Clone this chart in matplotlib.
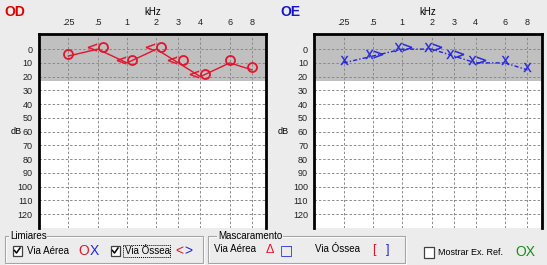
import matplotlib
matplotlib.use('Agg')
import matplotlib.pyplot as plt
import matplotlib.transforms as mtransforms
from matplotlib import font_manager
from matplotlib.patches import Rectangle
import numpy as np

freqs = [0.25, 0.5, 1, 2, 3, 4, 6, 8]
freq_labels = ['.25', '.5', '1', '2', '3', '4', '6', '8']
db_ticks = list(range(0, 130, 10))

od_air = [5, 0, 10, 0, 10, 20, 10, 15]      # right ear, air (O)
od_bone_freqs = [0.5, 1, 2, 3, 4]
od_bone = [0, 10, 0, 10, 20]                # right ear, bone (<)

oe_air = [10, 5, 0, 0, 5, 10, 10, 15]       # left ear, air (X)
oe_bone_freqs = [0.5, 1, 2, 3, 4]
oe_bone = [5, 0, 0, 5, 10]                  # left ear, bone (>)

# audiometer axis: octaves evenly spaced, half-octaves squeezed in
axis_freqs = [0.125, 0.25, 0.5, 1, 2, 3, 4, 6, 8, 11.3]
axis_pos = [0, 1, 2, 3, 4, 4.75, 5.5, 6.5, 7.25, 7.75]

RED = '#E5142D'
BLUE = '#2424DC'
BG = '#ECECEC'

names = {f.name for f in font_manager.fontManager.ttflist}
TICKFONT = 'Liberation Sans Narrow' if 'Liberation Sans Narrow' in names else 'Liberation Sans'
TICKSIZE = 7 if TICKFONT == 'Liberation Sans Narrow' else 6.5
plt.rcParams['font.family'] = ['Liberation Sans', 'DejaVu Sans']


def fwd(f):
    f = np.clip(np.asarray(f, dtype=float), 1e-6, None)
    return np.interp(np.log2(f), np.log2(axis_freqs), axis_pos)


def inv(p):
    return 2 ** np.interp(p, axis_pos, np.log2(axis_freqs))


fig = plt.figure(figsize=(5.47, 2.65), dpi=100, facecolor=BG)
W, H = 547.0, 265.0


def panel(x0, air, bone_f, bone, air_mk, bone_mk, color, ls, air_dx, bone_dx, mk_kw):
    ax = fig.add_axes([x0 / W, 1 - 228 / H, 227.4 / W, 194 / H])
    ax.set_xscale('function', functions=(fwd, inv))
    ax.set_xlim(axis_freqs[0], axis_freqs[-1])
    ax.set_ylim(130, -11)
    ax.axhspan(-11, 23, color='#C0C0C0', zorder=0, lw=0)
    ax.set_xticks(freqs)
    ax.set_xticklabels(freq_labels, fontfamily=TICKFONT)
    ax.xaxis.set_minor_locator(plt.NullLocator())
    ax.xaxis.tick_top()
    ax.set_yticks(db_ticks)
    ax.set_yticklabels([str(v) for v in db_ticks], fontfamily=TICKFONT)
    ax.tick_params(axis='x', length=0, labelsize=TICKSIZE, pad=5, colors='#202020')
    ax.tick_params(axis='y', length=0, labelsize=TICKSIZE, pad=4.5, colors='#202020')
    ax.set_axisbelow(True)
    ax.xaxis.grid(True, color='#8A8A8A', ls=(0, (2.5, 2)), lw=0.7)
    ax.yaxis.grid(True, color='#8A8A8A', ls=(0, (2.5, 2)), lw=0.7)
    for s in ['top', 'left', 'right']:
        ax.spines[s].set_linewidth(2)
        ax.spines[s].set_color('black')
    ax.spines['bottom'].set_visible(False)

    ax.plot(freqs, air, color=color, ls=ls, lw=1, zorder=3)
    fa = np.array(freqs)
    aa = np.array(air)
    has_bone = np.isin(fa, bone_f)
    t_air = mtransforms.offset_copy(ax.transData, fig=fig, x=air_dx, y=2.5, units='dots')
    t_plain = mtransforms.offset_copy(ax.transData, fig=fig, x=0, y=2.5, units='dots')
    t_bone = mtransforms.offset_copy(ax.transData, fig=fig, x=bone_dx, y=2.5, units='dots')
    ax.plot(fa[has_bone], aa[has_bone], ls='none', marker=air_mk, transform=t_air,
            color=color, clip_on=False, zorder=4, **mk_kw)
    ax.plot(fa[~has_bone], aa[~has_bone], ls='none', marker=air_mk, transform=t_plain,
            color=color, clip_on=False, zorder=4, **mk_kw)
    ax.plot(bone_f, bone, ls='none', marker=bone_mk, transform=t_bone,
            color=color, ms=6.5, mew=0.2, clip_on=False, zorder=4)
    return ax


panel(39, od_air, od_bone_freqs, od_bone, 'o', r'$<$', RED, '-', 5, -6,
      dict(ms=6.5, mfc='none', mew=1.3))
panel(314.3, oe_air, oe_bone_freqs, oe_bone, r'$\mathsf{X}$', r'$>$', BLUE,
      (0, (3, 1.5, 1, 1.5)), -4, 5, dict(ms=6.5, mew=0.2))

# overlay in pixel coordinates for titles and the control strip
ov = fig.add_axes([0, 0, 1, 1], zorder=10)
ov.set_xlim(0, W)
ov.set_ylim(H, 0)
ov.axis('off')
ov.patch.set_visible(False)

ov.text(4, 12.5, 'OD', color='#E00000', fontsize=10, fontweight='bold', va='center')
ov.text(280, 12.5, 'OE', color='#1414C8', fontsize=10, fontweight='bold', va='center')
ov.text(152.5, 12.3, 'kHz', fontsize=7, ha='center', va='center')
ov.text(428, 12.3, 'kHz', fontsize=7, ha='center', va='center')
ov.text(16, 132, 'dB', fontsize=6.5, ha='center', va='center')
ov.text(283, 132, 'dB', fontsize=6.5, ha='center', va='center')


def group(x0, x1, y0, y1, title, tx):
    ov.add_patch(Rectangle((x0 + 1, y0 + 1), x1 - x0, y1 - y0, fill=False, ec='white', lw=0.8))
    ov.add_patch(Rectangle((x0, y0), x1 - x0, y1 - y0, fill=False, ec='#A5A5A5', lw=0.8))
    ov.text(tx, y0, title, fontsize=7, va='center', ha='left',
            bbox=dict(fc=BG, ec='none', pad=0.5))


def checkbox(x, y, checked):
    ov.add_patch(Rectangle((x, y), 9, 10, fc='white', ec='#404040', lw=0.9))
    if checked:
        ov.plot([x + 2, x + 4, x + 7.5], [y + 5, y + 7.5, y + 2.5], color='black', lw=1.1)


group(5, 203, 236, 263, 'Limiares', 10)
group(208, 405, 236, 263, 'Mascaramento', 218)

checkbox(12.5, 245.5, True)
ov.text(27, 251, 'Via Aérea', fontsize=7, va='center')
ov.text(78, 251, 'O', color=RED, fontsize=10, va='center')
ov.text(90, 251, 'X', color=BLUE, fontsize=10, va='center')
checkbox(110.5, 245.5, True)
ov.text(125, 251, 'Via Óssea', fontsize=7, va='center')
ov.add_patch(Rectangle((122.7, 244.5), 47.3, 12.4, fill=False, ec='black', lw=0.7, ls=(0, (1, 1))))
ov.text(175, 251, '<', color=RED, fontsize=10, va='center')
ov.text(184, 251, '>', color=BLUE, fontsize=10, va='center')

ov.text(214, 249.3, 'Via Aérea', fontsize=7, va='center')
ov.text(266, 250, 'Δ', color=RED, fontsize=9, va='center')
ov.text(279.5, 250, '□', color=BLUE, fontsize=10, va='center', family='DejaVu Sans')
ov.text(315, 249.3, 'Via Óssea', fontsize=7, va='center')
ov.text(372.5, 250, '[', color=RED, fontsize=9, va='center')
ov.text(385.5, 250, ']', color=BLUE, fontsize=9, va='center')

ov.add_patch(Rectangle((423.5, 247), 10, 11, fc='white', ec='#404040', lw=0.9))
ov.text(438.3, 252.3, 'Mostrar Ex. Ref.', fontsize=6.5, va='center')
ov.text(515, 252, 'OX', color='#109010', fontsize=10, va='center')

plt.savefig('out.png', dpi=100, facecolor=BG)
